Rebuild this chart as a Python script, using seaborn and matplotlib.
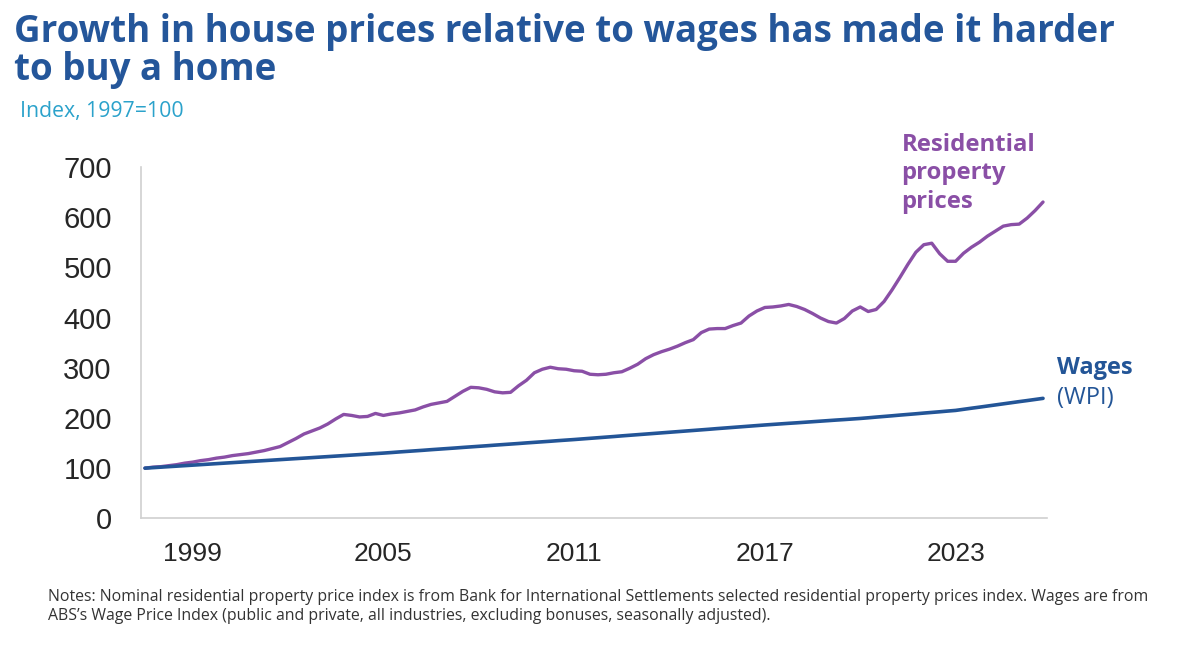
import numpy as np
import pandas as pd
import matplotlib
matplotlib.use("Agg")
import matplotlib.pyplot as plt
import seaborn as sns

# quarterly data, Sep quarter 1997 onwards, index 1997=100
start_year = 1997.5
prices = [100, 102, 103, 105, 107, 110, 112, 115, 117, 120,
          122, 125, 127, 129, 132, 135, 139, 143, 151, 159,
          168, 174, 180, 188, 198, 207, 205, 202, 203, 209,
          205, 208, 210, 213, 216, 222, 227, 230, 233, 243,
          253, 261, 260, 257, 252, 250, 251, 264, 275, 290,
          297, 301, 298, 297, 294, 293, 287, 286, 287, 290,
          292, 299, 307, 318, 326, 332, 337, 343, 350, 356,
          370, 377, 378, 378, 384, 389, 403, 413, 420, 421,
          423, 426, 422, 416, 408, 399, 392, 389, 398, 413,
          421, 412, 416, 432, 455, 480, 506, 530, 545, 548,
          527, 512, 512, 528, 540, 550, 562, 572, 582, 585,
          586, 598, 613, 630]
wages = [100, 101, 102, 103, 104, 105, 106, 107, 108, 109,
         110, 111, 112, 113, 114, 115, 116, 117, 118, 119,
         120, 121, 122, 123, 124, 125, 126, 127, 128, 129,
         130, 131.1, 132.3, 133.4, 134.5, 135.6, 136.8, 137.9, 139, 140.1,
         141.3, 142.4, 143.5, 144.6, 145.8, 146.9, 148, 149.1, 150.3, 151.4,
         152.5, 153.6, 154.8, 155.9, 157, 158.2, 159.4, 160.6, 161.8, 163,
         164.3, 165.5, 166.7, 167.9, 169.1, 170.3, 171.5, 172.7, 173.9, 175.1,
         176.3, 177.5, 178.8, 180, 181.2, 182.4, 183.6, 184.8, 186, 187.1,
         188.2, 189.3, 190.3, 191.4, 192.5, 193.6, 194.7, 195.8, 196.8, 197.9,
         199, 200.3, 201.7, 203, 204.3, 205.7, 207, 208.3, 209.7, 211,
         212.3, 213.7, 215, 217.2, 219.4, 221.5, 223.7, 225.9, 228.1, 230.3,
         232.5, 234.6, 236.8, 239]
year_labels = [1999, 2005, 2011, 2017, 2023]
y_ticks = [0, 100, 200, 300, 400, 500, 600, 700]

assert len(prices) == len(wages) == 114

t = start_year + np.arange(len(prices)) / 4
df = pd.DataFrame({"t": t, "prices": prices, "wages": wages})

purple = "#8a4fa6"
blue = "#235597"
title_blue = "#24569a"

sns.set_style("white")
plt.rcParams["font.family"] = ["Open Sans", "DejaVu Sans"]

fig = plt.figure(figsize=(12, 6.57), dpi=100)
ax = fig.add_axes([0.1175, 0.211, 0.755, 0.535])

sns.lineplot(data=df, x="t", y="prices", ax=ax, color=purple, lw=2.4)
sns.lineplot(data=df, x="t", y="wages", ax=ax, color=blue, lw=2.6)

x0 = start_year - 0.125
x1 = t[-1] + 0.125
ax.set_xlim(x0, x1)
ax.set_ylim(0, 700)

ax.set_yticks(y_ticks)
ax.set_yticklabels([str(v) for v in y_ticks], fontsize=21, family="Liberation Sans")
ax.set_xticks(year_labels)
ax.set_xticklabels([str(v) for v in year_labels], fontsize=19, family="Liberation Sans")
ax.set_xticks(np.arange(x0, x1 + 0.01, 0.75), minor=True)
ax.tick_params(axis="x", which="major", length=0, pad=17)
ax.tick_params(axis="x", which="minor", length=8, width=1.2, color="#d0d0d0")
ax.tick_params(axis="y", length=8, width=1.2, color="#d0d0d0", pad=13)
ax.set_xlabel("")
ax.set_ylabel("")

for s in ["top", "right"]:
    ax.spines[s].set_visible(False)
for s in ["left", "bottom"]:
    ax.spines[s].set_color("#d0d0d0")
    ax.spines[s].set_linewidth(1.2)

fig.text(0.012, 0.98, "Growth in house prices relative to wages has made it harder\nto buy a home",
         fontsize=26.5, fontweight="bold", color=title_blue, va="top", linespacing=1.0)
fig.text(0.017, 0.83, "Index, 1997=100", fontsize=15.3, color="#2ba2cb", va="center")

ax.text(2021.3, 768, "Residential\nproperty\nprices", fontsize=17.2, fontweight="bold",
        color=purple, va="top", linespacing=1.25, clip_on=False)
ax.text(2026.2, 300, "Wages", fontsize=17, fontweight="bold", color=blue, va="center",
        clip_on=False)
ax.text(2026.2, 240, "(WPI)", fontsize=17, color=blue, va="center", clip_on=False)

fig.text(0.04, 0.077,
         "Notes: Nominal residential property price index is from Bank for International Settlements selected residential property prices index. Wages are from\n"
         "ABS\u2019s Wage Price Index (public and private, all industries, excluding bonuses, seasonally adjusted).",
         fontsize=11.4, color="#333333", va="center", linespacing=1.3)

fig.savefig("out.png", dpi=100)
